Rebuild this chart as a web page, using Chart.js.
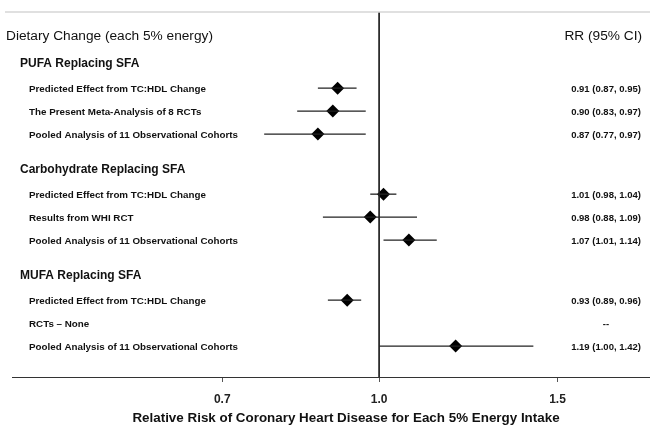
<!DOCTYPE html>
<html>
<head>
<meta charset="utf-8">
<script src="https://cdn.jsdelivr.net/npm/chart.js@4.4.0/dist/chart.umd.min.js"></script>
<style>
  html, body { margin: 0; padding: 0; background: #fff; }
  #wrap { width: 661px; height: 442px; }
</style>
</head>
<body>
<div id="wrap"><canvas id="forest" width="661" height="442"></canvas></div>
<script>
const groups = ["PUFA Replacing SFA", "Carbohydrate Replacing SFA", "MUFA Replacing SFA"];
const studyLabels = [
  "Predicted Effect from TC:HDL Change",
  "The Present Meta-Analysis of 8 RCTs",
  "Pooled Analysis of 11 Observational Cohorts",
  "Predicted Effect from TC:HDL Change",
  "Results from WHI RCT",
  "Pooled Analysis of 11 Observational Cohorts",
  "Predicted Effect from TC:HDL Change",
  "RCTs \u2013 None",
  "Pooled Analysis of 11 Observational Cohorts"
];
const studyGroup = [0, 0, 0, 1, 1, 1, 2, 2, 2];
const rr    = [0.91, 0.90, 0.87, 1.01, 0.98, 1.07, 0.93, null, 1.19];
const lower = [0.87, 0.83, 0.77, 0.98, 0.88, 1.01, 0.89, null, 1.00];
const upper = [0.95, 0.97, 0.97, 1.04, 1.09, 1.14, 0.96, null, 1.42];
const xTicks = [0.7, 1.0, 1.5];
const headerLeft = "Dietary Change (each 5% energy)";
const headerRight = "RR (95% CI)";
const xTitle = "Relative Risk of Coronary Heart Disease for Each 5% Energy Intake";

const FONT = "'Liberation Sans', Arial, sans-serif";

// row layout (in row units, top to bottom)
const headerRow = 1;
const groupRows = [];
const studyRows = [];
let pos = headerRow;
groups.forEach((g, gi) => {
  pos += gi === 0 ? 1.2 : 1.5;
  groupRows.push(pos);
  pos += 1.12;
  studyGroup.forEach((sg, i) => {
    if (sg === gi) { studyRows[i] = pos; pos += 1; }
  });
  pos -= 1;
});
const yMax = pos + 1.35;

const ciText = (i) => rr[i] == null ? "--" :
  `${rr[i].toFixed(2)} (${lower[i].toFixed(2)}, ${upper[i].toFixed(2)})`;

const datasets = [];
// reference line at RR = 1
datasets.push({
  type: "line",
  data: [{ x: 1, y: 0 }, { x: 1, y: yMax }],
  borderColor: "#222",
  borderWidth: 1,
  pointRadius: 0,
});
// confidence intervals
rr.forEach((v, i) => {
  if (v == null) return;
  datasets.push({
    type: "line",
    data: [{ x: lower[i], y: studyRows[i] }, { x: upper[i], y: studyRows[i] }],
    borderColor: "#222",
    borderWidth: 1.3,
    pointRadius: 0,
  });
});
// point estimates
datasets.push({
  type: "scatter",
  data: rr.map((v, i) => v == null ? null : { x: v, y: studyRows[i] }).filter(d => d),
  pointStyle: "rectRot",
  pointRadius: 6.5,
  pointHoverRadius: 6.5,
  backgroundColor: "#000",
  borderWidth: 0,
});

const textPlugin = {
  id: "forestText",
  afterDraw(chart) {
    const ctx = chart.ctx;
    const y = chart.scales.y;
    const area = chart.chartArea;
    const rowY = (v) => y.getPixelForValue(v) + 1;
    ctx.save();
    // light top rule
    ctx.strokeStyle = "#d6d6d6";
    ctx.lineWidth = 1.5;
    ctx.beginPath();
    ctx.moveTo(5, area.top);
    ctx.lineTo(650, area.top);
    ctx.stroke();

    ctx.fillStyle = "#111";
    ctx.textBaseline = "middle";
    ctx.font = `13.7px ${FONT}`;
    ctx.textAlign = "left";
    ctx.fillText(headerLeft, 6, rowY(headerRow));
    ctx.textAlign = "right";
    ctx.fillText(headerRight, 642, rowY(headerRow));

    ctx.textAlign = "left";
    ctx.font = `bold 12px ${FONT}`;
    groups.forEach((g, gi) => ctx.fillText(g, 20, rowY(groupRows[gi])));

    studyLabels.forEach((s, i) => {
      const py = rowY(studyRows[i]);
      ctx.font = `bold 9.8px ${FONT}`;
      ctx.textAlign = "left";
      ctx.fillText(s, 29, py);
      ctx.font = `bold 9.5px ${FONT}`;
      ctx.textAlign = "center";
      ctx.fillText(ciText(i), 606, py);
    });

    ctx.font = `bold 13.4px ${FONT}`;
    ctx.textAlign = "center";
    ctx.fillText(xTitle, 346, 418);
    ctx.restore();
  }
};

new Chart(document.getElementById("forest"), {
  data: { datasets },
  options: {
    responsive: false,
    animation: false,
    layout: { padding: { left: 12, right: 12, top: 12, bottom: 0 } },
    plugins: {
      legend: { display: false },
      tooltip: { enabled: false },
    },
    scales: {
      x: {
        type: "logarithmic",
        min: 0.434,
        max: 1.847,
        afterBuildTicks: (scale) => { scale.ticks = xTicks.map(v => ({ value: v })); },
        afterFit: (scale) => { scale.height = 65; },
        ticks: {
          autoSkip: false,
          maxRotation: 0,
          padding: 10,
          color: "#222",
          font: { family: FONT, size: 12, weight: "bold" },
          callback: (v) => Number(v).toFixed(1),
        },
        grid: { drawOnChartArea: false, drawTicks: true, tickLength: 5, color: "#555" },
        border: { display: true, color: "#333", width: 1 },
      },
      y: {
        type: "linear",
        display: false,
        reverse: true,
        min: 0,
        max: yMax,
      },
    },
  },
  plugins: [textPlugin],
});
</script>
</body>
</html>
